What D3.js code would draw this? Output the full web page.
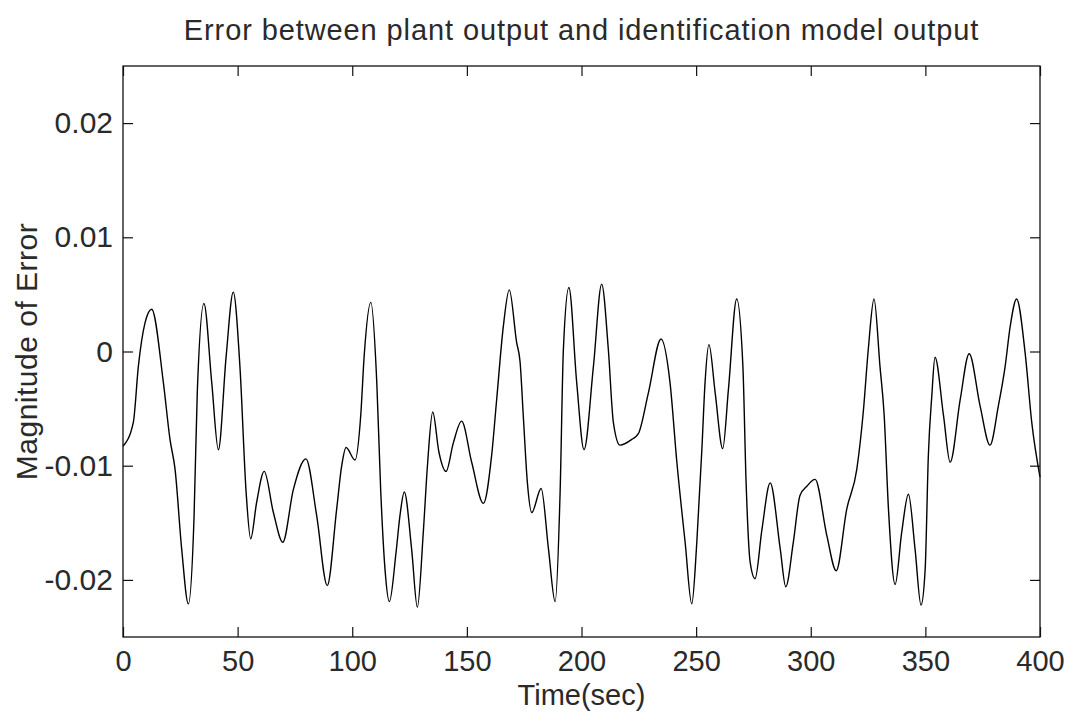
<!DOCTYPE html>
<html>
<head>
<meta charset="utf-8">
<script src="https://cdn.jsdelivr.net/npm/d3@7"></script>
<style>
  body { margin: 0; background: #fff; }
  svg { display: block; font-family: "Liberation Sans", Arial, sans-serif; }
</style>
</head>
<body>
<div id="chart"></div>
<script>
// error curve (time in sec, error magnitude)
const times = [0, 4.5, 6.7, 9.6, 12.5, 17.6, 20.5, 22.7, 25.6, 28.5, 31, 32.4, 35.3, 38.7, 41.6, 45, 48.1,
  51, 53.7, 55.7, 58.3, 61.6, 65.6, 69.7, 74.3, 79.8, 84.5, 89.1, 93.2, 95.4, 97.3, 101.2, 103.7,
  105.2, 108.1, 110.7, 112.4, 114.3, 116.2, 119.1, 120.8, 122.7, 125.9, 128.4, 131, 132.8, 135.1,
  137.8, 140.9, 144.1, 147.7, 152.1, 157.2, 160.8, 163, 165.9, 168.5, 171.7, 173.2, 174.6, 176.4,
  178.3, 182.4, 185.6, 188.5, 190.7, 192.1, 194.5, 197.9, 201.1, 205.2, 208.8, 211.7, 213.9, 216.8,
  221.9, 224.8, 229.2, 234.7, 238.6, 241.6, 245.2, 248.1, 250.3, 252.5, 253.9, 255.6, 258.3, 261.6,
  264.1, 267.7, 270.4, 271.8, 273.6, 275.7, 278.7, 282.3, 286.7, 289.1, 292.4, 295.3, 298.3, 301.9,
  307, 311.1, 315.7, 320.1, 323, 325.1, 327.6, 330.2, 332, 333.9, 336.8, 339.7, 342.6, 345.5, 348.1,
  349.9, 351.3, 352.8, 354.2, 357.9, 360.8, 365.2, 369.1, 373.9, 378.2, 381.8, 384.8, 387, 389.8,
  393.5, 396.4, 400]
const errors = [-0.0083, -0.0062, -0.0013, 0.0025, 0.0037, -0.0027, -0.0077, -0.0103, -0.0173, -0.0221, -0.0144, -0.0036, 0.0042, -0.0027, -0.0086, -0.0004, 0.0052,
  -0.0013, -0.0123, -0.0164, -0.0132, -0.0105, -0.0141, -0.0167, -0.0121, -0.0094, -0.0144, -0.0205, -0.0138, -0.0100, -0.0084, -0.0095, -0.0056,
  -0.0004, 0.0043, -0.0027, -0.0121, -0.0191, -0.0219, -0.0176, -0.0144, -0.0123, -0.0173, -0.0224, -0.0158, -0.0100, -0.0053,
  -0.0088, -0.0105, -0.0080, -0.0061, -0.0097, -0.0133, -0.0091, -0.0042, 0.0022, 0.0054, 0.0008, -0.0009, -0.0056, -0.0115,
  -0.0141, -0.0120, -0.0173, -0.0219, -0.0121, 0.0002, 0.0056, -0.0027, -0.0086, -0.0013, 0.0059, 0.0002, -0.0062, -0.0082,
  -0.0077, -0.0072, -0.0036, 0.0011, -0.0027, -0.0097, -0.0167, -0.0221, -0.0167, -0.0086, -0.0027, 0.0006, -0.0036, -0.0085,
  -0.0033, 0.0046, -0.0013, -0.0115, -0.0185, -0.0199, -0.0156, -0.0115, -0.0173, -0.0206, -0.0167, -0.0126, -0.0118, -0.0112,
  -0.0161, -0.0192, -0.0138, -0.0103, -0.0051, 0.0002, 0.0046, -0.0013, -0.0055, -0.0138, -0.0204, -0.0158, -0.0125, -0.0173, -0.0222,
  -0.0191, -0.0091, -0.0039, -0.0005, -0.0056, -0.0097, -0.0042, -0.0002, -0.0048, -0.0082, -0.0048, -0.0013, 0.0022, 0.0046,
  -0.0001, -0.0062, -0.0110]

const xTicks = [0, 50, 100, 150, 200, 250, 300, 350, 400]
const yTicks = [-0.02, -0.01, 0, 0.01, 0.02]

const titleText = "Error between plant output and identification model output"
const xLabel = "Time(sec)"
const yLabel = "Magnitude of Error"

const width = 1070
const height = 717
const plotLeft = 123, plotRight = 1040, plotTop = 66, plotBottom = 637
const textColor = "#2a2a2a"

const xScale = d3.scaleLinear().domain([0, 400]).range([plotLeft, plotRight])
const yScale = d3.scaleLinear().domain([-0.025, 0.025]).range([plotBottom, plotTop])

const svg = d3.select("#chart")
  .append("svg")
  .attr("width", width)
  .attr("height", height)

const yFmt = d => d === 0 ? "0" : d.toFixed(2)

// bottom and left axes carry labels, top and right only ticks
const xAxis = d3.axisBottom(xScale).tickValues(xTicks).tickSizeInner(-10).tickSizeOuter(0).tickPadding(13)
const yAxis = d3.axisLeft(yScale).tickValues(yTicks).tickFormat(yFmt).tickSizeInner(-10).tickSizeOuter(0).tickPadding(10)
const xAxisTop = d3.axisTop(xScale).tickValues(xTicks).tickSizeInner(-10).tickSizeOuter(0).tickFormat("")
const yAxisRight = d3.axisRight(yScale).tickValues(yTicks).tickSizeInner(-10).tickSizeOuter(0).tickFormat("")

function styleAxis(g, size) {
  g.select(".domain").remove()
  g.selectAll(".tick line").attr("stroke", "#111").attr("stroke-width", 1.2)
  g.selectAll(".tick text")
    .attr("fill", textColor)
    .style("font-size", size + "px")
    .style("font-family", "'Liberation Sans', Arial, sans-serif")
}

svg.append("g").attr("transform", `translate(0, ${plotBottom})`).call(xAxis).call(styleAxis, 29)
svg.append("g").attr("transform", `translate(${plotLeft}, 0)`).call(yAxis).call(styleAxis, 30)
svg.append("g").attr("transform", `translate(0, ${plotTop})`).call(xAxisTop).call(styleAxis, 29)
svg.append("g").attr("transform", `translate(${plotRight}, 0)`).call(yAxisRight).call(styleAxis, 30)

const line = d3.line()
  .x(d => xScale(d[0]))
  .y(d => yScale(d[1]))
  .curve(d3.curveMonotoneX)

svg.append("path")
  .datum(times.map((t, i) => [t, errors[i]]))
  .attr("fill", "none")
  .attr("stroke", "#000")
  .attr("stroke-width", 1.4)
  .attr("d", line)

svg.append("rect")
  .attr("x", plotLeft)
  .attr("y", plotTop)
  .attr("width", plotRight - plotLeft)
  .attr("height", plotBottom - plotTop)
  .attr("fill", "none")
  .attr("stroke", "#111")
  .attr("stroke-width", 1.3)

svg.append("text")
  .attr("x", (plotLeft + plotRight) / 2)
  .attr("y", 40)
  .attr("text-anchor", "middle")
  .attr("fill", textColor)
  .style("font-size", "29px")
  .style("letter-spacing", "0.9px")
  .text(titleText)

svg.append("text")
  .attr("x", (plotLeft + plotRight) / 2)
  .attr("y", 705)
  .attr("text-anchor", "middle")
  .attr("fill", textColor)
  .style("font-size", "29px")
  .text(xLabel)

svg.append("text")
  .attr("transform", `translate(37, ${(plotTop + plotBottom) / 2}) rotate(-90)`)
  .attr("text-anchor", "middle")
  .attr("fill", textColor)
  .style("font-size", "30px")
  .style("letter-spacing", "0.5px")
  .text(yLabel)
</script>
</body>
</html>
